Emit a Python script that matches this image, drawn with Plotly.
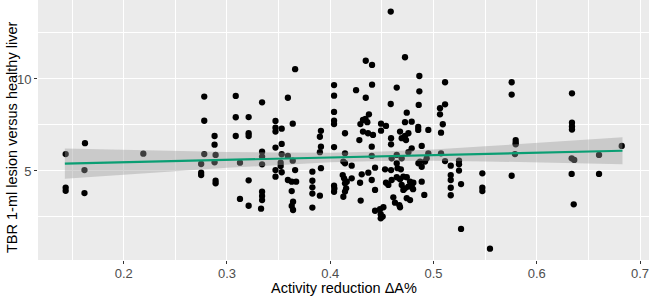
import plotly.graph_objects as go

# Scatter data (activity reduction, TBR)
activity_reduction = [
    0.1625, 0.1438, 0.162, 0.219, 0.1438, 0.1438, 0.162, 0.278, 0.278, 0.3085,
    0.3085, 0.321, 0.334, 0.347, 0.347, 0.353, 0.359, 0.366, 0.3637, 0.4037,
    0.4037, 0.4037, 0.4037, 0.4037, 0.391, 0.347, 0.288, 0.288, 0.3085, 0.321,
    0.321, 0.347, 0.353, 0.390, 0.391, 0.390, 0.4037, 0.278, 0.275, 0.289,
    0.288, 0.3126, 0.334, 0.334, 0.334, 0.353, 0.359, 0.352, 0.352, 0.3637,
    0.347, 0.353, 0.347, 0.366, 0.275, 0.275, 0.289, 0.289, 0.321, 0.359,
    0.3627, 0.367, 0.3827, 0.3827, 0.3827, 0.3827, 0.390, 0.3827, 0.391, 0.4037,
    0.4037, 0.3627, 0.334, 0.334, 0.334, 0.3126, 0.321, 0.333, 0.364, 0.3627,
    0.364, 0.4586, 0.4344, 0.4405, 0.4724, 0.4863, 0.4250, 0.4405, 0.4344, 0.4644,
    0.4863, 0.4586, 0.4857, 0.4741, 0.4375, 0.4317, 0.4342, 0.4359, 0.4292, 0.4492,
    0.454, 0.4724, 0.4789, 0.4852, 0.4852, 0.495, 0.5063, 0.5063, 0.4143, 0.4317,
    0.4366, 0.4414, 0.4492, 0.4589, 0.4589, 0.4676, 0.4757, 0.4724, 0.4692, 0.4734,
    0.4282, 0.4402, 0.4886, 0.4789, 0.4757, 0.4950, 0.4934, 0.4143, 0.4402, 0.4644,
    0.4595, 0.4692, 0.4870, 0.4918, 0.4854, 0.4886, 0.4127, 0.4143, 0.4208, 0.4434,
    0.4531, 0.4589, 0.4652, 0.4684, 0.4644, 0.4369, 0.4305, 0.4121, 0.4134, 0.4160,
    0.4143, 0.4208, 0.4402, 0.4289, 0.4540, 0.4563, 0.4595, 0.4644, 0.4676, 0.4708,
    0.4741, 0.4773, 0.4805, 0.4692, 0.4724, 0.4757, 0.4789, 0.4708, 0.4802, 0.4886,
    0.4040, 0.4154, 0.4143, 0.4127, 0.4434, 0.4911, 0.4295, 0.4611, 0.4627, 0.4669,
    0.4676, 0.4741, 0.4773, 0.4434, 0.4482, 0.4515, 0.4489, 0.4489, 0.4508, 0.5112,
    0.5757, 0.5757, 0.5112, 0.509, 0.5073, 0.5073, 0.5112, 0.5167, 0.5247, 0.5247,
    0.5247, 0.5167, 0.5167, 0.5267, 0.5167, 0.5167, 0.5473, 0.5473, 0.5473, 0.5267,
    0.5547, 0.5757, 0.5796, 0.5796, 0.5796, 0.5789, 0.6341, 0.6341, 0.6341, 0.6341,
    0.6338, 0.6363, 0.6338, 0.6358, 0.6603, 0.6603, 0.6823,
]
tbr = [
    6.51, 5.92, 5.05, 5.94, 4.10, 3.92, 3.80, 9.04, 7.73, 9.08,
    7.92, 7.93, 8.73, 7.72, 7.35, 7.30, 8.98, 10.53, 7.57, 9.67,
    9.09, 8.21, 7.73, 7.55, 7.18, 7.14, 6.90, 6.43, 6.90, 7.05,
    6.90, 6.27, 6.47, 6.86, 6.32, 6.02, 6.30, 5.92, 5.38, 5.87,
    5.47, 5.45, 6.05, 5.78, 5.36, 5.91, 5.82, 5.45, 5.27, 5.56,
    5.05, 4.93, 4.69, 5.05, 4.91, 4.78, 4.47, 4.33, 4.49, 4.51,
    4.42, 4.42, 4.96, 4.47, 4.11, 3.77, 3.66, 3.01, 5.15, 4.20,
    3.87, 3.91, 3.87, 3.64, 3.42, 3.48, 3.11, 2.95, 3.33, 3.10,
    2.88, 13.66, 10.99, 10.76, 11.18, 10.16, 9.39, 9.69, 8.98, 9.53,
    9.33, 8.64, 8.59, 8.17, 8.08, 7.77, 7.83, 7.65, 7.55, 7.57,
    7.45, 7.65, 7.68, 7.39, 7.23, 7.23, 8.41, 8.08, 7.05, 7.14,
    7.05, 6.96, 7.19, 6.78, 6.45, 7.14, 7.05, 6.90, 6.78, 6.68,
    6.68, 6.32, 6.36, 6.23, 6.02, 5.96, 5.69, 5.96, 5.82, 5.87,
    5.69, 5.69, 5.51, 5.51, 5.42, 5.23, 5.51, 5.42, 5.29, 5.18,
    5.09, 5.05, 5.15, 5.09, 5.42, 4.91, 4.82, 4.78, 4.60, 4.42,
    4.33, 4.60, 4.51, 4.36, 4.36, 4.24, 4.51, 4.66, 4.55, 4.69,
    4.66, 4.42, 4.36, 4.24, 4.06, 4.15, 4.18, 3.97, 4.01, 4.42,
    4.05, 4.06, 3.88, 3.60, 3.97, 3.70, 3.39, 3.57, 3.28, 3.15,
    3.03, 3.52, 3.42, 2.84, 2.92, 3.03, 2.65, 2.43, 2.52, 9.82,
    9.82, 9.15, 8.62, 7.54, 7.08, 5.96, 5.54, 5.29, 5.56, 5.36,
    5.02, 4.78, 4.51, 4.29, 4.09, 3.68, 4.87, 4.09, 3.91, 1.85,
    0.78, 4.74, 6.68, 6.54, 6.45, 5.92, 9.22, 7.62, 7.42, 7.25,
    5.69, 5.60, 4.84, 3.19, 5.87, 4.84, 6.36,
]

# Fitted linear trend and its confidence band
fit_x = [0.143, 0.2, 0.25, 0.3, 0.35, 0.4, 0.45, 0.5, 0.55, 0.6, 0.65, 0.683]
fit_y = [5.40, 5.47, 5.54, 5.60, 5.67, 5.73, 5.80, 5.86, 5.93, 5.99, 6.06, 6.10]
fit_half = [0.82, 0.67, 0.55, 0.43, 0.33, 0.26, 0.26, 0.31, 0.41, 0.53, 0.65, 0.73]

x_ticks = [0.2, 0.3, 0.4, 0.5, 0.6, 0.7]
x_tick_labels = ["0.2", "0.3", "0.4", "0.5", "0.6", "0.7"]
y_ticks = [5, 10]
y_tick_labels = ["5", "10"]

band_hi = [m + h for m, h in zip(fit_y, fit_half)]
band_lo = [m - h for m, h in zip(fit_y, fit_half)]

fig = go.Figure()
fig.add_trace(go.Scatter(
    x=activity_reduction, y=tbr, mode="markers",
    marker=dict(color="black", size=6.3, line=dict(width=0)),
    showlegend=False, hoverinfo="skip",
))
fig.add_trace(go.Scatter(
    x=fit_x + fit_x[::-1], y=band_hi + band_lo[::-1],
    mode="lines", fill="toself", fillcolor="rgba(153,153,153,0.4)",
    line=dict(width=0, color="rgba(0,0,0,0)"), showlegend=False, hoverinfo="skip",
))
fig.add_trace(go.Scatter(
    x=fit_x, y=fit_y, mode="lines",
    line=dict(color="#0A9E73", width=2.2), showlegend=False, hoverinfo="skip",
))

font_family = "Liberation Sans, Arial, sans-serif"
fig.update_layout(
    width=649, height=300,
    margin=dict(l=38, r=0, t=0, b=40, autoexpand=False),
    paper_bgcolor="white", plot_bgcolor="#EBEBEB",
    font=dict(family=font_family, color="black"),
    xaxis=dict(
        range=[0.117, 0.7087], tickvals=x_ticks, ticktext=x_tick_labels,
        showgrid=True, gridcolor="white", gridwidth=1.1, zeroline=False,
        ticks="outside", ticklen=3, tickcolor="#333333", tickwidth=1,
        tickfont=dict(size=13, color="#4D4D4D"), automargin=False,
        ticklabeloverflow="allow", ticklabelstandoff=-2,
        minor=dict(dtick=0.05, tick0=0.15, showgrid=True, gridcolor="white", gridwidth=0.55, ticks=""),
        showline=False,
    ),
    yaxis=dict(
        range=[0.163, 14.29], tickvals=y_ticks, ticktext=y_tick_labels,
        showgrid=True, gridcolor="white", gridwidth=1.1, zeroline=False,
        ticks="outside", ticklen=3, tickcolor="#333333", tickwidth=1,
        tickfont=dict(size=13, color="#4D4D4D"), automargin=False,
        minor=dict(dtick=2.5, tick0=0, showgrid=True, gridcolor="white", gridwidth=0.55, ticks=""),
        showline=False,
    ),
    annotations=[
        dict(text="Activity reduction \u0394A%", xref="paper", yref="paper",
             x=0.5, y=0, yshift=-28, xanchor="center", yanchor="middle",
             showarrow=False, font=dict(size=14.5, color="black")),
        dict(text="TBR 1-ml lesion versus healthy liver", xref="paper", yref="paper",
             x=0, y=0.5, xshift=-26, yshift=-8, xanchor="center", yanchor="middle", textangle=-90,
             showarrow=False, font=dict(size=14.5, color="black")),
    ],
)

fig.write_html(
    "out.html",
    config={"displayModeBar": False},
    post_script="document.body.style.margin='0';document.body.style.overflow='hidden';",
)
